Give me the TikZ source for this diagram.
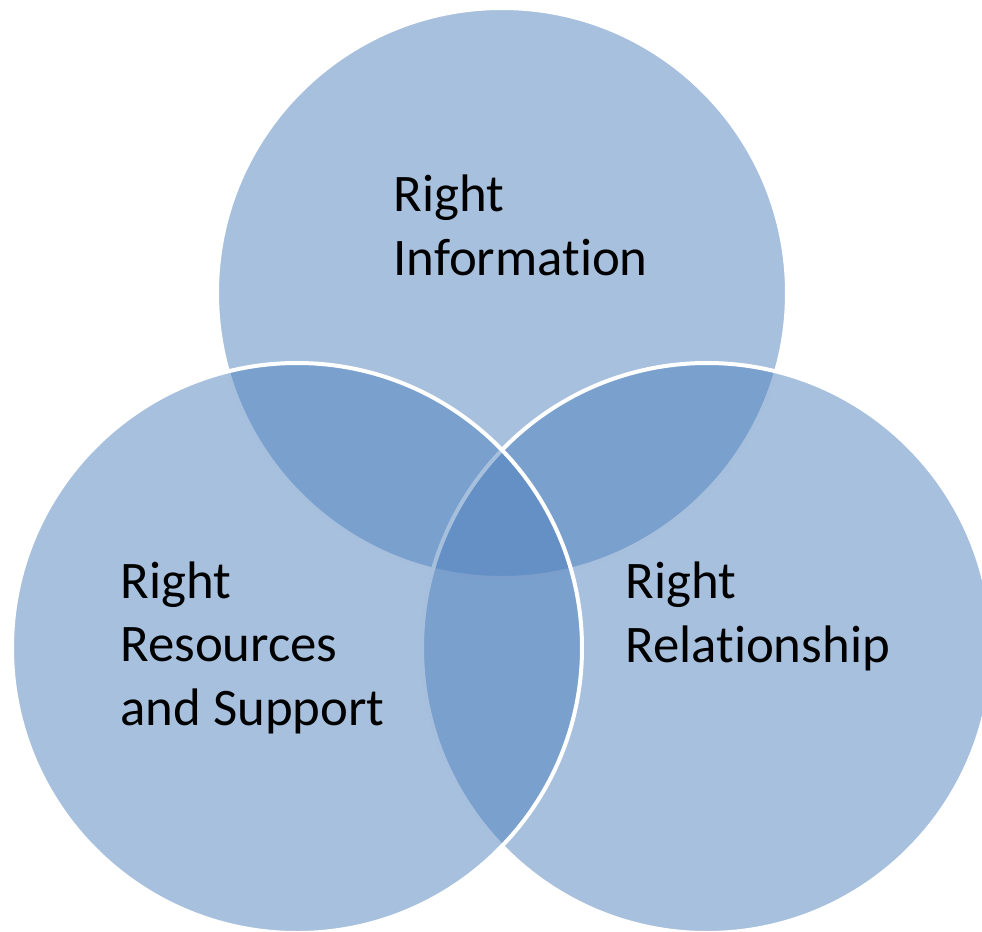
\documentclass[tikz,border=0pt]{standalone}
\usepackage{fontspec}
\setmainfont{Carlito}[Ligatures=NoCommon]
\definecolor{vennblue}{HTML}{4F81BD}
\tikzset{
  venn/.style={fill=vennblue, fill opacity=0.5, draw=white, line width=2pt},
  venntext/.style={anchor=base west, inner sep=0pt, align=left,
    font=\fontsize{26.4}{31.75}\selectfont}
}
\begin{document}
\begin{tikzpicture}[x=0.5pt, y=0.5pt]
		\useasboundingbox (0,0) rectangle (982,-932);
		\clip (0,0) rectangle (982,-932);
		% centres of the circles
		\coordinate (info) at (502,-293);
		\coordinate (rel) at (707,-648);
		\coordinate (res) at (297,-648);
		% the circles, the left one on top
		\draw[venn] (info) circle[radius=142.5pt];
		\draw[venn] (rel) circle[radius=142.5pt];
		\draw[venn] (res) circle[radius=142.5pt];
		% the labels (placed at the baseline of the last line)
		\node[venntext] (infotext) at (393,-275) {Right\\Information};
		\node[venntext] (restext) at (120,-725) {Right\\Resources\\and Support};
		\node[venntext] (reltext) at (625,-662) {Right\\Relationship};
	\end{tikzpicture}
\end{document}
